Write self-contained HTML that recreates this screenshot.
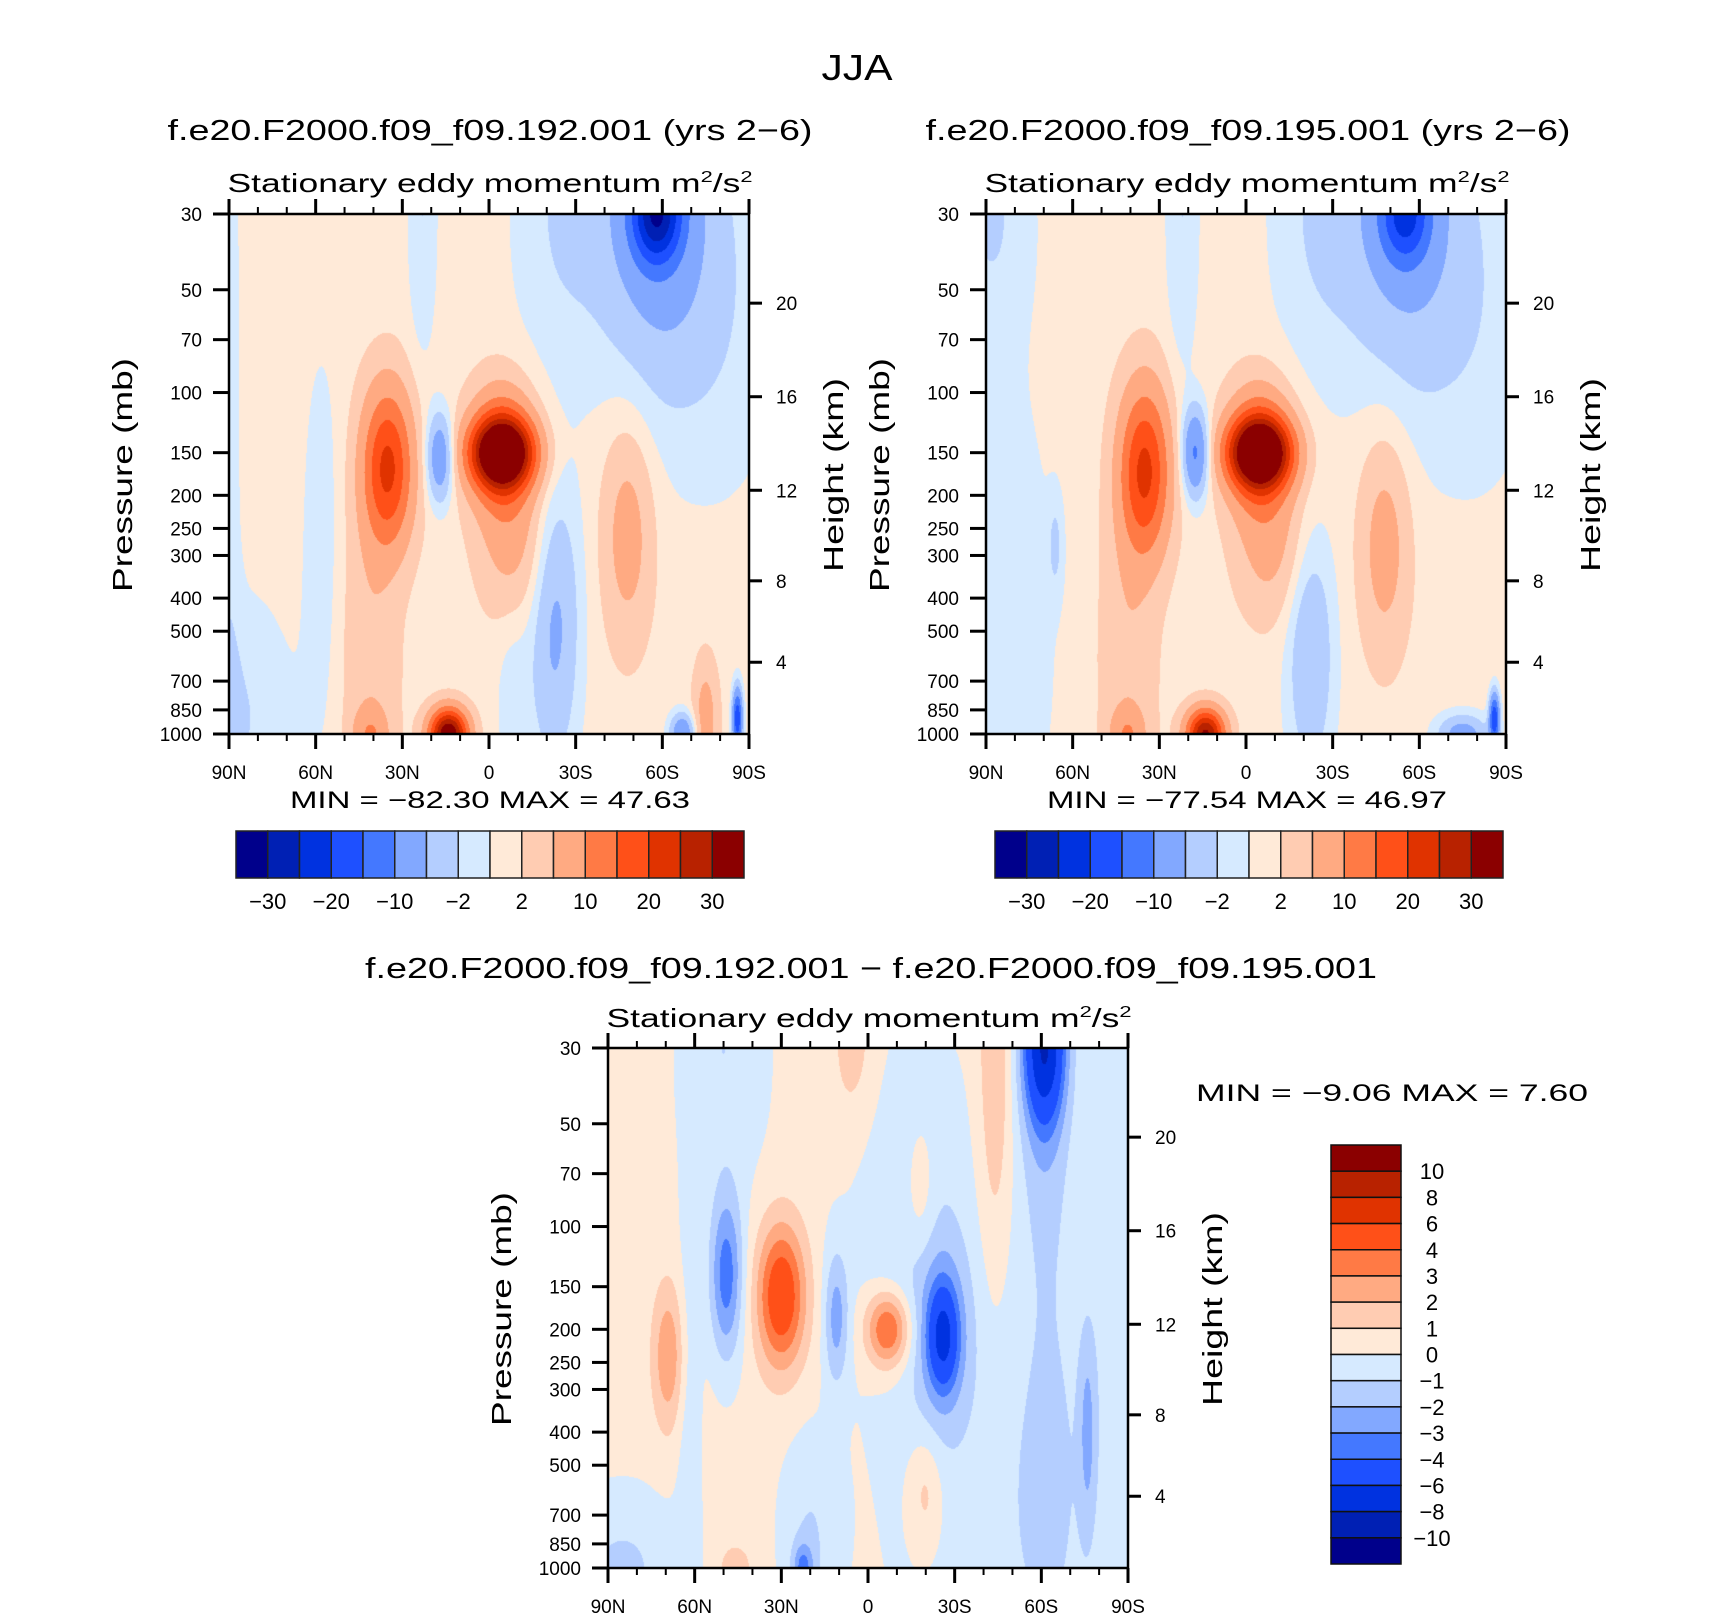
<!DOCTYPE html>
<html><head><meta charset="utf-8">
<style>
html,body{margin:0;padding:0;background:#fff;}
#page{position:relative;width:1710px;height:1617px;overflow:hidden;background:#fff;font-family:"Liberation Sans",sans-serif;}
canvas{position:absolute;}
#ov{position:absolute;left:0;top:0;}
text{font-family:"Liberation Sans",sans-serif;fill:#000;}
</style></head>
<body>
<div id="page">
<canvas id="c1" width="520" height="520" style="left:229px;top:214px"></canvas>
<canvas id="c2" width="520" height="520" style="left:986px;top:214px"></canvas>
<canvas id="c3" width="520" height="520" style="left:608px;top:1048px"></canvas>
<svg id="ov" width="1710" height="1617" xmlns="http://www.w3.org/2000/svg">
<text x="857" y="80" font-size="36" text-anchor="middle" textLength="71" lengthAdjust="spacingAndGlyphs">JJA</text>
<text x="490" y="140" font-size="29" text-anchor="middle" textLength="645" lengthAdjust="spacingAndGlyphs">f.e20.F2000.f09_f09.192.001 (yrs 2−6)</text>
<text x="1248" y="140" font-size="29" text-anchor="middle" textLength="645" lengthAdjust="spacingAndGlyphs">f.e20.F2000.f09_f09.195.001 (yrs 2−6)</text>
<text x="490" y="192" font-size="26" text-anchor="middle" textLength="525" lengthAdjust="spacingAndGlyphs">Stationary eddy momentum m<tspan dy="-10" font-size="16">2</tspan><tspan dy="10">/s</tspan><tspan dy="-10" font-size="16">2</tspan></text>
<text x="1247" y="192" font-size="26" text-anchor="middle" textLength="525" lengthAdjust="spacingAndGlyphs">Stationary eddy momentum m<tspan dy="-10" font-size="16">2</tspan><tspan dy="10">/s</tspan><tspan dy="-10" font-size="16">2</tspan></text>
<text x="490" y="808" font-size="24" text-anchor="middle" textLength="400" lengthAdjust="spacingAndGlyphs">MIN = −82.30  MAX =  47.63</text>
<text x="1247" y="808" font-size="24" text-anchor="middle" textLength="400" lengthAdjust="spacingAndGlyphs">MIN = −77.54  MAX =  46.97</text>
<text x="871" y="978" font-size="29" text-anchor="middle" textLength="1012" lengthAdjust="spacingAndGlyphs">f.e20.F2000.f09_f09.192.001 − f.e20.F2000.f09_f09.195.001</text>
<text x="869" y="1027" font-size="26" text-anchor="middle" textLength="525" lengthAdjust="spacingAndGlyphs">Stationary eddy momentum m<tspan dy="-10" font-size="16">2</tspan><tspan dy="10">/s</tspan><tspan dy="-10" font-size="16">2</tspan></text>
<text x="1196" y="1101" font-size="24" textLength="392" lengthAdjust="spacingAndGlyphs">MIN =   −9.06   MAX =     7.60</text>
<g id="axes"></g>
</svg>
</div>
<script>
// ---------- data ----------
const levelsAbs = [-30,-25,-20,-15,-10,-5,-2,0,2,5,10,15,20,25,30];
const levelsDiff = [-10,-8,-6,-4,-3,-2,-1,0,1,2,3,4,6,8,10];
const colorsAbs = ['#00008b','#0020b4','#0032e0','#1e50ff','#4478ff','#82a8ff','#b4ceff','#d6eaff','#ffead8','#ffccb2','#ffaa82','#ff7a45','#ff5018','#e03300','#b82200','#8b0000'];
const cbLabelsAbs = ['−30','−20','−10','−2','2','10','20','30'];
const cbLabelsDiff = ['10','8','6','4','3','2','1','0','−1','−2','−3','−4','−6','−8','−10'];
const pressureTicks = [30,50,70,100,150,200,250,300,400,500,700,850,1000];
const heightTicks = [4,8,12,16,20];
const latTicks = [90,60,30,0,-30,-60,-90];
const latLabels = ['90N','60N','30N','0','30S','60S','90S'];

// panel 1 blobs (lat, pressure, amplitude, lat-sigma, log10p-sigma)
const p1Bg = 1.0;
const p1Lat = [58, 85, 90, 23, -25, -80, -23, -8, 35, 41, 17, -4.5, -4.5, -8, -48, 14, 41, -75, -67, -86, -58, -58, -22];
const p1P   = [280, 900, 100, 30, 30, 60, 420, 800, 166, 600, 155, 150, 150, 280, 260, 1000, 1000, 900, 990, 900, 30, 30, 900];
const p1Amp = [-2.2, -3, -2, -3, -3, -2.2, -6, -2, 20, 3.5, -10, 35, 15, 5, 6, 35, 7, 6, -10, -20, -24, -8, -2];
const p1Su  = [4.8, 12, 3, 3.5, 12, 16, 6, 4, 6, 7, 3.2, 7.5, 7.5, 8, 6, 4.5, 4, 3, 3, 1.2, 6, 14, 6];
const p1Sv  = [0.42, 0.25, 1.0, 0.3, 0.35, 0.4, 0.25, 0.2, 0.16, 0.35, 0.09, 0.07, 0.13, 0.15, 0.22, 0.05, 0.05, 0.12, 0.04, 0.06, 0.1, 0.35, 0.2];

// panel 2 blobs
const p2Bg = 1.0;
const p2Lat = [90, 88, 22, -25, -80, -22.5, 35, 41, 17.5, -4.7, -4.7, -8, -48, 14, 41, -75, -86, -55, -55, 66, -22];
const p2P   = [500, 30, 30, 30, 60, 520, 170, 600, 150, 150, 150, 280, 280, 1000, 1000, 1000, 900, 30, 30, 280, 900];
const p2Amp = [-3, -3, -3, -3, -2.2, -5, 20, 3.5, -12, 35, 15, 5, 6, 30, 7, -8, -20, -17, -7, -3, -1.8];
const p2Su  = [16, 10, 4, 12, 16, 5.5, 6, 7, 3.2, 7.5, 7.5, 8, 6, 4.5, 4, 6, 1.2, 6, 14, 1.8, 6];
const p2Sv  = [0.55, 0.25, 0.33, 0.35, 0.4, 0.22, 0.17, 0.35, 0.09, 0.07, 0.13, 0.15, 0.22, 0.05, 0.05, 0.04, 0.05, 0.1, 0.35, 0.1, 0.2];

// panel 3 (difference) blobs
const p3Bg = 0.3;
const p3Lat = [69, 49, 30, 11, -7, -26, -26, -61, -61, -63, -44, 50, 62, -15, -18, 5, -50, -20, 85, 20, 22.5, 46, -76, -86];
const p3P   = [240, 140, 160, 185, 200, 210, 210, 30, 30, 300, 30, 30, 300, 90, 80, 30, 700, 600, 1000, 800, 1000, 1000, 400, 100];
const p3Amp = [2.6, -3.8, 5, -2.6, 4.5, -4, -2.5, -6, -2.2, -0.8, 1.8, -1.3, -1, -1.3, 1.5, 1.2, -0.9, 1.5, -1.5, -1.3, -2.8, 1.5, -1.8, -1.0];
const p3Su  = [4, 4, 6, 3, 5.5, 3.5, 7, 5, 6, 10, 4, 10, 3, 14, 4, 6, 30, 4, 14, 7, 2.5, 4, 2, 6];
const p3Sv  = [0.15, 0.17, 0.15, 0.14, 0.08, 0.1, 0.2, 0.15, 0.35, 0.8, 0.45, 0.3, 0.4, 0.35, 0.15, 0.2, 0.5, 0.12, 0.15, 0.2, 0.05, 0.05, 0.2, 0.6];

// ---------- axes helpers ----------
const W = 520, H = 520, LP0 = Math.log10(30), LP1 = 3;
function xOf(lat){ return (90 - lat) / 180 * W; }
function yOf(p){ return (Math.log10(p) - LP0) / (LP1 - LP0) * H; }
function zToP(z){ return z <= 11 ? 1013.25 * Math.pow(1 - z / 44.33, 5.256) : 226.32 * Math.exp(-(z - 11) / 6.34); }

function drawField(id, bg, la, pp, am, su, sv, levels, colors){
  const cv = document.getElementById(id), ctx = cv.getContext('2d');
  const img = ctx.createImageData(W, H);
  const rgb = colors.map(c => [parseInt(c.substr(1,2),16), parseInt(c.substr(3,2),16), parseInt(c.substr(5,2),16)]);
  const lp = pp.map(p => Math.log10(p));
  for (let j = 0; j < H; j++){
    const v = LP0 + (j + 0.5) / H * (LP1 - LP0);
    for (let i = 0; i < W; i++){
      const lat = 90 - (i + 0.5) / W * 180;
      let f = bg;
      for (let k = 0; k < la.length; k++){
        const du = (lat - la[k]) / su[k], dv = (v - lp[k]) / sv[k];
        f += am[k] * Math.exp(-0.5 * (du*du + dv*dv));
      }
      let idx = 0; while (idx < levels.length && f >= levels[idx]) idx++;
      const o = (j * W + i) * 4, c = rgb[idx];
      img.data[o] = c[0]; img.data[o+1] = c[1]; img.data[o+2] = c[2]; img.data[o+3] = 255;
    }
  }
  ctx.putImageData(img, 0, 0);
}
drawField('c1', p1Bg, p1Lat, p1P, p1Amp, p1Su, p1Sv, levelsAbs, colorsAbs);
drawField('c2', p2Bg, p2Lat, p2P, p2Amp, p2Su, p2Sv, levelsAbs, colorsAbs);
drawField('c3', p3Bg, p3Lat, p3P, p3Amp, p3Su, p3Sv, levelsDiff, colorsAbs);

const NS = 'http://www.w3.org/2000/svg';
const axes = document.getElementById('axes');
function mk(tag, attrs, parent){
  const e = document.createElementNS(NS, tag);
  for (const k in attrs) e.setAttribute(k, attrs[k]);
  (parent || axes).appendChild(e);
  return e;
}
function txt(x, y, s, size, anchor, parent){
  const t = mk('text', {x:x, y:y, 'font-size':size, 'text-anchor':anchor||'start'}, parent);
  t.textContent = s;
  return t;
}

function drawAxes(x0, y0, name){
  const g = mk('g', {});
  
  
  mk('rect', {x:x0, y:y0, width:W, height:H, fill:'none', stroke:'#000', 'stroke-width':2.5}, g);
  for (let lat = 90; lat >= -90; lat -= 10){
    const x = x0 + xOf(lat), major = (lat % 30 === 0), L = major ? 15 : 7;
    mk('line', {x1:x, y1:y0+H, x2:x, y2:y0+H+L, stroke:'#000', 'stroke-width':major?3:2}, g);
    mk('line', {x1:x, y1:y0, x2:x, y2:y0-L, stroke:'#000', 'stroke-width':major?3:2}, g);
  }
  latTicks.forEach((lat, i) => {
    const t = txt(x0 + xOf(lat), y0 + H + 45, latLabels[i], 19, 'middle', g);
    
    
  });
  pressureTicks.forEach(p => {
    const y = y0 + yOf(p);
    mk('line', {x1:x0-16, y1:y, x2:x0, y2:y, stroke:'#000', 'stroke-width':3}, g);
    const t = txt(x0 - 27, y + 7, String(p), 19, 'end', g);
    
    
  });
  heightTicks.forEach(z => {
    const y = y0 + yOf(zToP(z));
    mk('line', {x1:x0+W, y1:y, x2:x0+W+13, y2:y, stroke:'#000', 'stroke-width':3}, g);
    const t = txt(x0 + W + 27, y + 7, String(z), 19, 'start', g);
    
    
  });
  const cy = y0 + H/2 + 1;
  const pl = txt(0, 0, 'Pressure (mb)', 28, 'middle', g);
  pl.setAttribute('transform', 'translate(' + (x0 - 97) + ',' + cy + ') rotate(-90)');
  pl.setAttribute('textLength', '234');
  pl.setAttribute('lengthAdjust', 'spacingAndGlyphs');
  
  
  const hl = txt(0, 0, 'Height (km)', 28, 'middle', g);
  hl.setAttribute('transform', 'translate(' + (x0 + W + 94) + ',' + cy + ') rotate(-90)');
  hl.setAttribute('textLength', '194');
  hl.setAttribute('lengthAdjust', 'spacingAndGlyphs');
  
  
}
drawAxes(229, 214, 'panel1');
drawAxes(986, 214, 'panel2');
drawAxes(608, 1048, 'panel3');

function hColorbar(x0, name){
  const g = mk('g', {});
  
  
  const w = 508 / colorsAbs.length;
  colorsAbs.forEach((c, i) => {
    const r = mk('rect', {x:x0 + i*w, y:831, width:w, height:47, fill:c, stroke:'#222', 'stroke-width':1.5}, g);
    
    
  });
  cbLabelsAbs.forEach((s, i) => {
    const t = txt(x0 + (2*i + 1) * w, 909, s, 22, 'middle', g);
    
    
  });
}
hColorbar(236, 'panel1-colorbar');
hColorbar(995, 'panel2-colorbar');

(function(){
  const g = mk('g', {});
  
  
  const n = colorsAbs.length, h = 419 / n;
  for (let i = 0; i < n; i++){
    const r = mk('rect', {x:1331, y:1145 + i*h, width:70, height:h, fill:colorsAbs[n-1-i], stroke:'#111', 'stroke-width':1.5}, g);
    
    
  }
  cbLabelsDiff.forEach((s, i) => {
    const t = txt(1432, 1145 + (i+1)*h + 8, s, 22, 'middle', g);
    
    
  });
})();
</script>
</body></html>
